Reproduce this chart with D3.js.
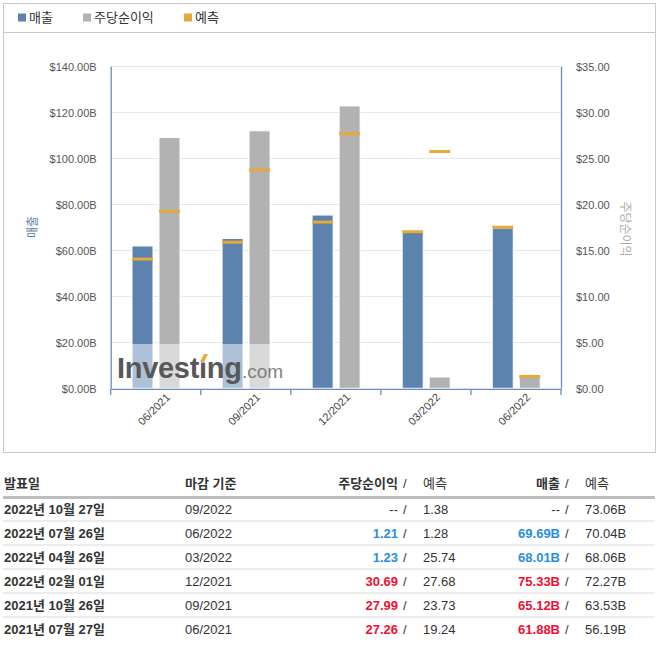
<!DOCTYPE html>
<html><head><meta charset="utf-8">
<script src="https://cdn.jsdelivr.net/npm/d3@7"></script>
<style>
body{margin:0;background:#fff;}
svg text{font-family:"Liberation Sans","Noto Sans CJK KR",Arial,sans-serif;}
</style></head>
<body>
<svg id="c" width="659" height="645"></svg>
<script>
// ---- data ----
const categories = ["06/2021","09/2021","12/2021","03/2022","06/2022"];
const revenue = [61.88, 65.12, 75.33, 68.01, 69.69];
const revenueForecast = [56.19, 63.53, 72.27, 68.06, 70.04];
const eps = [27.26, 27.99, 30.69, 1.23, 1.21];
const epsForecast = [19.24, 23.73, 27.68, 25.74, 1.28];
const leftTicks = [0,20,40,60,80,100,120,140];
const rightTicks = [0,5,10,15,20,25,30,35];
const legendNames = ["매출","주당순이익","예측"];

const tableHeaders = ["발표일","마감 기준","주당순이익","예측","매출","예측"];
const releaseDates = ["2022년 10월 27일","2022년 07월 26일","2022년 04월 26일","2022년 02월 01일","2021년 10월 26일","2021년 07월 27일"];
const periods = ["09/2022","06/2022","03/2022","12/2021","09/2021","06/2021"];
const epsActualTbl = ["--","1.21","1.23","30.69","27.99","27.26"];
const epsForecastTbl = ["1.38","1.28","25.74","27.68","23.73","19.24"];
const revActualTbl = ["--","69.69B","68.01B","75.33B","65.12B","61.88B"];
const revForecastTbl = ["73.06B","70.04B","68.06B","72.27B","63.53B","56.19B"];
const resultClass = ["none","down","down","up","up","up"];

// ---- styles ----
const C_BLUE="#5c82ae", C_GRAY="#b2b2b2", C_ORANGE="#e8a83a";
const C_UP="#ee1030", C_DOWN="#2a8ee0";

const svg = d3.select("#c");

// chart box
svg.append("rect").attr("x",3.5).attr("y",3.5).attr("width",652).attr("height",449)
  .attr("fill","#fff").attr("stroke","#c8c8c8");
svg.append("line").attr("x1",3.5).attr("x2",655.5).attr("y1",32.5).attr("y2",32.5).attr("stroke","#c8c8c8");

// legend
const legendColors=[C_BLUE,C_GRAY,C_ORANGE];
const legendX=[18,83,184];
const lg = svg.append("g");
legendNames.forEach((n,i)=>{
  lg.append("rect").attr("x",legendX[i]).attr("y",13.5).attr("width",8).attr("height",8).attr("fill",legendColors[i]);
  lg.append("text").attr("x",legendX[i]+11).attr("y",22).attr("font-size",13).attr("fill","#333").text(n);
});

// scales
const x = d3.scaleBand().domain(categories).range([110.7,561]).padding(0);
const sub = d3.scaleBand().domain(["rev","eps"]).range([21.3,69.3]).paddingInner(0.2222);
const yL = d3.scaleLinear().domain([0,140]).range([388.3,66.3]);
const yR = d3.scaleLinear().domain([0,35]).range([388.3,66.3]);

// gridlines
svg.append("g").selectAll("line").data(leftTicks.slice(1)).join("line")
  .attr("x1",110.7).attr("x2",561).attr("y1",d=>Math.round(yL(d))+0.5).attr("y2",d=>Math.round(yL(d))+0.5)
  .attr("stroke","#e6e6ee").attr("stroke-width",1);

// bars
const bw = sub.bandwidth();
const gBars = svg.append("g");
categories.forEach((c,i)=>{
  const xr = x(c)+sub("rev"), xe = x(c)+sub("eps");
  gBars.append("rect").attr("x",xr).attr("width",bw).attr("y",yL(revenue[i])).attr("height",yL(0)-yL(revenue[i]))
    .attr("fill",C_BLUE).attr("stroke","#fff").attr("stroke-width",1);
  gBars.append("rect").attr("x",xe).attr("width",bw).attr("y",yR(eps[i])).attr("height",yR(0)-yR(eps[i]))
    .attr("fill",C_GRAY).attr("stroke","#fff").attr("stroke-width",1);
});
// forecast markers
categories.forEach((c,i)=>{
  const xr = x(c)+sub("rev"), xe = x(c)+sub("eps");
  gBars.append("rect").attr("x",xr).attr("width",bw).attr("y",yL(revenueForecast[i])-1.5).attr("height",3).attr("fill",C_ORANGE);
  gBars.append("rect").attr("x",xe).attr("width",bw).attr("y",yR(epsForecast[i])-1.5).attr("height",3).attr("fill",C_ORANGE);
});

// watermark
const wm = svg.append("g");
wm.append("rect").attr("x",111).attr("y",344).attr("width",180).attr("height",44).attr("fill","#fff").attr("opacity",0.5);
wm.append("text").attr("x",117).attr("y",378).attr("font-size",29).attr("font-weight","bold")
  .attr("fill","#585858").attr("letter-spacing","-0.3").text("Investing");
wm.append("text").attr("x",242).attr("y",378).attr("font-size",19)
  .attr("fill","#808080").text(".com");
wm.append("rect").attr("x",200).attr("y",354).attr("width",8).attr("height",8.5).attr("fill","#fff");
wm.append("path").attr("d","M200,362 L204,354 L208,354 L204,362 Z").attr("fill",C_ORANGE);

// axes
const axisColor="#6a8cbc";
const axL = svg.append("g").attr("transform","translate(110.7,0)")
  .call(d3.axisLeft(yL).tickValues(leftTicks).tickSize(0).tickPadding(14).tickFormat(d=>"$"+d.toFixed(2)+"B"));
const axR = svg.append("g").attr("transform","translate(561,0)")
  .call(d3.axisRight(yR).tickValues(rightTicks).tickSize(0).tickPadding(15).tickFormat(d=>"$"+d.toFixed(2)));
[axL,axR].forEach(a=>{
  a.select(".domain").attr("stroke",axisColor).attr("stroke-width",1.3);
  a.selectAll("text").attr("font-size",11).attr("fill","#555").attr("font-family","Liberation Sans, Arial, sans-serif").attr("dy","0.35em");
});
const axB = svg.append("g").attr("transform","translate(0,388.8)")
  .call(d3.axisBottom(x).tickSize(0).tickFormat(""));
axB.select(".domain").attr("stroke",axisColor).attr("stroke-width",1.3);
// boundary ticks
const bounds = categories.map(c=>x(c)).concat([x.range()[1]]);
svg.append("g").selectAll("line").data(bounds).join("line")
  .attr("x1",d=>d).attr("x2",d=>d).attr("y1",389).attr("y2",395).attr("stroke",axisColor).attr("stroke-width",1.3);
axB.selectAll(".tick text").remove();
svg.append("g").selectAll("text").data(categories).join("text")
  .attr("transform",d=>`translate(${x(d)+x.bandwidth()/2+15},398) rotate(-45)`)
  .attr("text-anchor","end").attr("font-size",11).attr("fill","#444").text(d=>d);

// axis titles
svg.append("text").attr("transform","translate(33,227) rotate(-90)").attr("text-anchor","middle")
  .attr("dy","0.35em").attr("font-size",12).attr("fill",C_BLUE).text("매출");
svg.append("text").attr("transform","translate(625,229) rotate(90)").attr("text-anchor","middle")
  .attr("dy","0.35em").attr("font-size",12).attr("fill","#aaa").text("주당순이익");

// ---- table ----
const tb = svg.append("g").attr("font-size",13).attr("fill","#333");
const hy = 488;
tb.append("text").attr("x",4).attr("y",hy).attr("font-weight","bold").text(tableHeaders[0]);
tb.append("text").attr("x",185).attr("y",hy).attr("font-weight","bold").text(tableHeaders[1]);
tb.append("text").attr("x",398).attr("y",hy).attr("text-anchor","end").attr("font-weight","bold").text(tableHeaders[2]);
tb.append("text").attr("x",403).attr("y",hy).text("/");
tb.append("text").attr("x",423).attr("y",hy).text(tableHeaders[3]);
tb.append("text").attr("x",560).attr("y",hy).attr("text-anchor","end").attr("font-weight","bold").text(tableHeaders[4]);
tb.append("text").attr("x",565).attr("y",hy).text("/");
tb.append("text").attr("x",585).attr("y",hy).text(tableHeaders[5]);
tb.append("rect").attr("x",3).attr("y",496).attr("width",652).attr("height",3).attr("fill","#bdbdbd");

const colorOf = k => k==="up"?C_UP:(k==="down"?C_DOWN:"#333");
releaseDates.forEach((d,i)=>{
  const y = 514 + 24*i;
  tb.append("text").attr("x",4).attr("y",y).attr("font-weight","bold").text(d);
  tb.append("text").attr("x",185).attr("y",y).text(periods[i]);
  const k = resultClass[i];
  tb.append("text").attr("x",398).attr("y",y).attr("text-anchor","end")
    .attr("font-weight",k==="none"?"normal":"bold").attr("fill",colorOf(k)).text(epsActualTbl[i]);
  tb.append("text").attr("x",403).attr("y",y).text("/");
  tb.append("text").attr("x",423).attr("y",y).text(epsForecastTbl[i]);
  tb.append("text").attr("x",560).attr("y",y).attr("text-anchor","end")
    .attr("font-weight",k==="none"?"normal":"bold").attr("fill",colorOf(k)).text(revActualTbl[i]);
  tb.append("text").attr("x",565).attr("y",y).text("/");
  tb.append("text").attr("x",585).attr("y",y).text(revForecastTbl[i]);
  if(i<releaseDates.length-1)
    tb.append("rect").attr("x",3).attr("y",520.5+24*i).attr("width",652).attr("height",1).attr("fill","#dcdcdc");
});
</script>
</body></html>
